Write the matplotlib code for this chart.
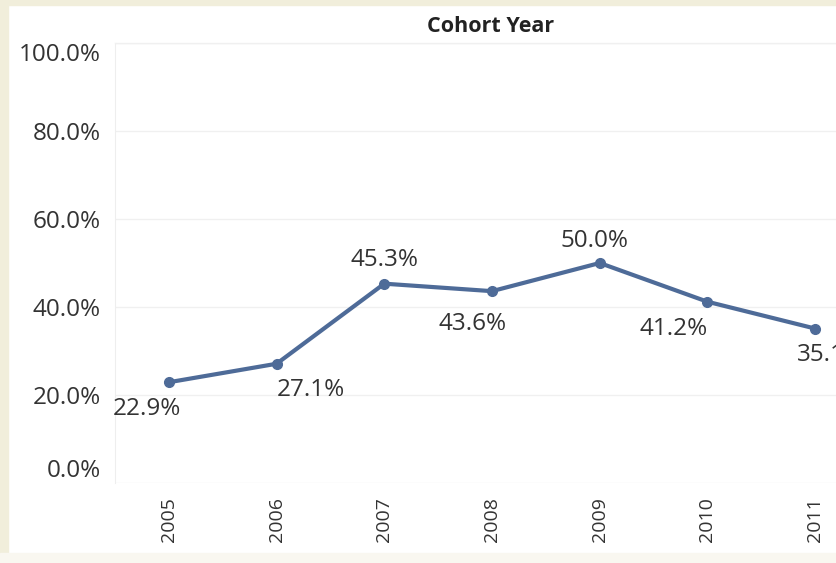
import matplotlib.pyplot as plt
from matplotlib.patches import Rectangle

plt.rcParams['font.family'] = ['Open Sans', 'DejaVu Sans']

# Cohort years and their rates (%)
years = [2005, 2006, 2007, 2008, 2009, 2010, 2011]
rates = [22.9, 27.1, 45.3, 43.6, 50.0, 41.2, 35.1]
yticks = [0, 20, 40, 60, 80, 100]

# label placement per point: (dx, dy) in points, horizontal alignment
label_pos = [(-16, -19, 'center'), (0, -19, 'left'), (0, 17, 'center'),
             (-14, -24, 'center'), (-4, 16, 'center'), (0, -20, 'right'),
             (-13, -19, 'left')]

W, H = 837, 563
fig = plt.figure(figsize=(W / 100, H / 100), dpi=100)
fig.patch.set_facecolor('white')

# beige dashboard frame
fig.add_artist(Rectangle((0, 0), 8 / W, 1, transform=fig.transFigure, color='#f1eedb', zorder=0))
fig.add_artist(Rectangle((0, 1 - 5 / H), 1, 5 / H, transform=fig.transFigure, color='#f1eedb', zorder=0))
fig.add_artist(Rectangle((0, 0), 1, 10 / H, transform=fig.transFigure, color='#f9f7f0', zorder=0))

ax = fig.add_axes([115 / W, 80 / H, 754 / W, 440 / H])
ax.plot(years, rates, color='#4e6b98', lw=3, marker='o', ms=7, solid_capstyle='round', zorder=3)

for x, y, (dx, dy, ha) in zip(years, rates, label_pos):
    ax.annotate(f'{y:.1f}%', (x, y), xytext=(dx, dy), textcoords='offset points',
                ha=ha, va='center', fontsize=17.5, color='#333333')

ax.set_xlim(2004.5, 2011.5)
ax.set_ylim(0, 100)
ax.set_xticks(years)
ax.set_xticklabels([str(y) for y in years], rotation=90, fontsize=14, color='#333333')
ax.set_yticks(yticks)
ax.set_yticklabels([f'{v:.1f}%' for v in yticks], fontsize=17.5, color='#333333')
ax.tick_params(length=0)
ax.tick_params(axis='y', pad=10)
ax.tick_params(axis='x', pad=10)
# keep end labels inside the pane like Tableau does
ylabs = ax.get_yticklabels()
ylabs[0].set_va('bottom')
ylabs[-1].set_va('top')

ax.grid(axis='y', color='#f0f0f0', lw=1)
for s in ['top', 'right', 'bottom']:
    ax.spines[s].set_visible(False)
ax.spines['left'].set_color('#eeeeee')

# header
fig.text(491 / W, 1 - 26 / H, 'Cohort Year', ha='center', va='center',
         fontsize=15.5, fontweight='bold', color='#222222')
fig.add_artist(plt.Line2D([115 / W, 1], [1 - 43 / H] * 2, transform=fig.transFigure,
                          color='#f0f0f0', lw=1))

fig.savefig('out.png', dpi=100)
